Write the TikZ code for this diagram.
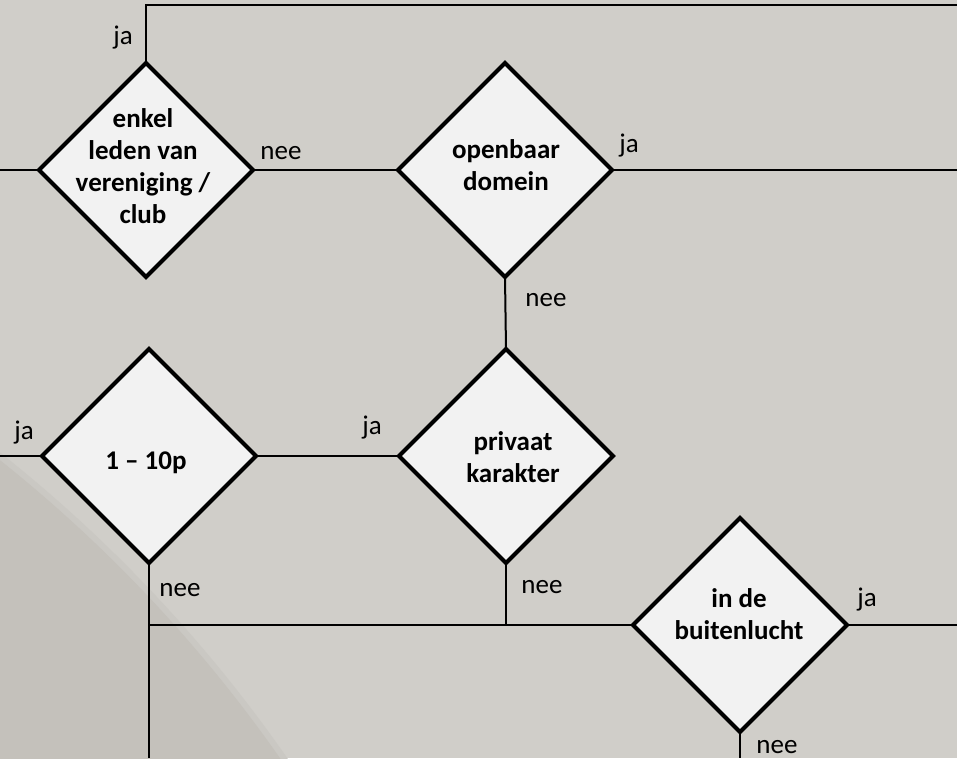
\documentclass[tikz,border=0pt]{standalone}
\usepackage{fontspec}
\setmainfont{Carlito}
\usetikzlibrary{shapes.geometric}
\definecolor{bgmain}{HTML}{D0CEC9}
\definecolor{bgdark}{HTML}{C4C1BB}
\definecolor{bgband}{HTML}{CAC8C3}
\definecolor{dfill}{HTML}{F2F2F2}
\begin{document}
\begin{tikzpicture}[x=1pt,y=-1pt,
  dia/.style={diamond, draw=black, line width=4pt, fill=dfill, minimum width=214pt, minimum height=214pt, inner sep=0pt, outer sep=0pt, aspect=1},
  dtext/.style={font=\fontsize{27}{32}\selectfont\bfseries, align=center, inner sep=0pt},
  lbl/.style={font=\fontsize{27}{32}\selectfont, inner sep=0pt, anchor=base},
  conn/.style={line width=2pt, draw=black}]
% background
\useasboundingbox (0,0) rectangle (957,758);
\fill[bgmain] (0,0) rectangle (957,758);
\begin{scope}
\clip (0,0) rectangle (957,758);
\fill[bgband] (-885,1572) circle (1427pt);
\fill[bgdark] (-885,1572) circle (1421pt);
\end{scope}
% decision diamonds
\node[dia] (d1) at (146,170) {};
\node[dia] (d2) at (505,170) {};
\node[dia] (d3) at (149,456) {};
\node[dia] (d4) at (506,456) {};
\node[dia] (d5) at (740,625) {};
\node[dtext] (d1t) at (143,166) {enkel\\leden van\\vereniging /\\club};
\node[dtext] (d2t) at (506,165) {openbaar\\domein};
\node[dtext, anchor=base] (d3t) at (146,469) {1 -- 10p};
\node[dtext] (d4t) at (513,457) {privaat\\karakter};
\node[dtext] (d5t) at (739,614) {in de\\buitenlucht};
% free ends
\coordinate (t1) at (146,5);
\coordinate (t2) at (957,5);
\coordinate (l1) at (0,170);
\coordinate (r2) at (957,170);
\coordinate (l3) at (0,456);
\coordinate (b3) at (149,758);
\coordinate (j1) at (149,625);
\coordinate (j2) at (506,625);
\coordinate (r5) at (957,625);
\coordinate (b5) at (740,758);
% connectors
\draw[conn] (d1.north) -- (t1) -- (t2);
\draw[conn] (l1) -- (d1.west);
\draw[conn] (d1.east) -- (d2.west);
\draw[conn] (d2.east) -- (r2);
\draw[conn] (d2.south) -- (d4.north);
\draw[conn] (l3) -- (d3.west);
\draw[conn] (d3.east) -- (d4.west);
\draw[conn] (d3.south) -- (b3);
\draw[conn] (j1) -- (d5.west);
\draw[conn] (d4.south) -- (j2);
\draw[conn] (d5.east) -- (r5);
\draw[conn] (d5.south) -- (b5);
% labels
\node[lbl] (la1) at (123,44) {ja};
\node[lbl] (la2) at (281,159) {nee};
\node[lbl] (la3) at (629,152) {ja};
\node[lbl] (la4) at (546,306) {nee};
\node[lbl] (la5) at (24,439) {ja};
\node[lbl] (la6) at (372,434) {ja};
\node[lbl] (la7) at (180,596) {nee};
\node[lbl] (la8) at (542,593) {nee};
\node[lbl] (la9) at (867,606) {ja};
\node[lbl] (la10) at (777,753) {nee};
\end{tikzpicture}
\end{document}
